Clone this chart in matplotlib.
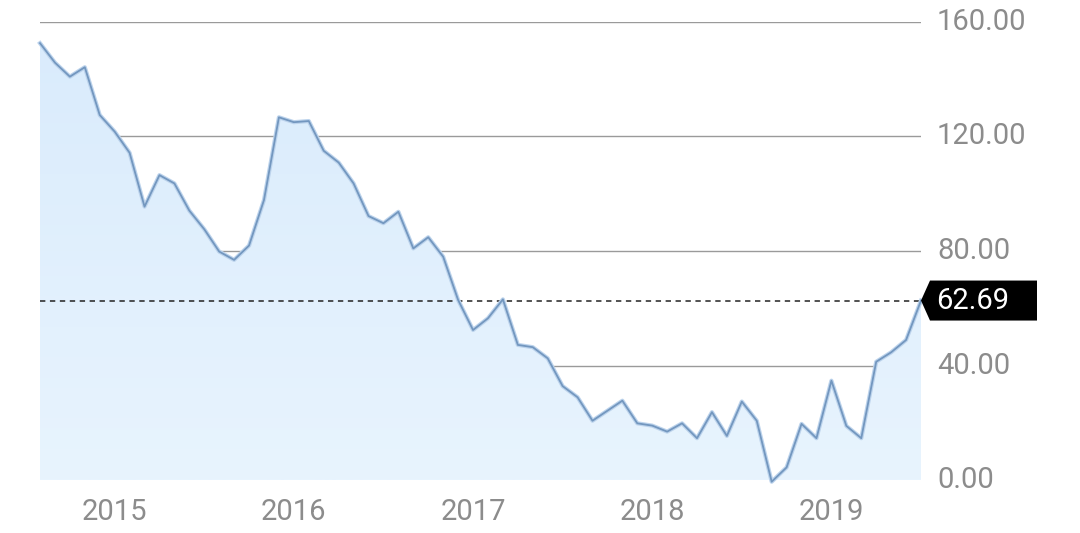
import numpy as np
import matplotlib
matplotlib.use("Agg")
import matplotlib.pyplot as plt
from matplotlib.patches import Polygon
from matplotlib.colors import LinearSegmentedColormap
import matplotlib.patheffects as pe

# ---- data (monthly, Aug 2014 .. Jul 2019) ----
values = [152.6, 145.8, 140.9, 144.2, 127.5, 121.7, 114.3, 95.5, 106.5, 103.6,
          94.1, 87.6, 79.8, 76.9, 81.9, 97.8, 126.7, 125.0, 125.4, 115.0,
          110.9, 103.6, 92.2, 89.7, 93.7, 80.9, 84.8, 78.0, 62.9, 52.4,
          56.5, 63.1, 47.2, 46.4, 42.5, 32.8, 28.9, 20.7, 24.2, 27.7,
          19.8, 19.0, 16.9, 19.8, 14.6, 23.7, 15.4, 27.4, 20.7, -0.6,
          4.4, 19.6, 14.6, 34.7, 18.9, 14.6, 41.3, 44.6, 48.9, 62.69]
year_tick_index = [5, 17, 29, 41, 53]
year_labels = ["2015", "2016", "2017", "2018", "2019"]
y_ticks = [0, 40, 80, 120, 160]
y_labels = ["0.00", "40.00", "80.00", "120.00", "160.00"]
last_value = 62.69

plt.rcParams['font.family'] = ['Roboto', 'DejaVu Sans']

W, H = 1080, 533
fig = plt.figure(figsize=(W / 100, H / 100), dpi=100)
ax = fig.add_axes([40 / W, 53 / H, (921 - 40) / W, 458 / H])

x = np.arange(len(values))
y = np.array(values)

ax.set_xlim(0, len(values) - 1)
ax.set_ylim(0, 160)

# gridlines
for t in y_ticks:
    ax.axhline(t, color="#9a9a9a", lw=1.0, zorder=1)

# gradient fill under the line
grad = np.linspace(0, 1, 256).reshape(-1, 1)
cmap = LinearSegmentedColormap.from_list("g", ["#e8f4fe", "#d9ebfc"])
img = ax.imshow(grad, cmap=cmap, aspect="auto", origin="lower",
                extent=[0, len(values) - 1, 0, 160], zorder=2)
poly = Polygon(np.column_stack([np.r_[x, x[-1], x[0]], np.r_[y, 0, 0]]),
               closed=True, facecolor="none", edgecolor="none")
ax.add_patch(poly)
img.set_clip_path(poly)

# line
ax.plot(x, y, color="#7397bf", lw=1.3, zorder=4, clip_on=False,
        path_effects=[pe.Stroke(linewidth=3.0, foreground="#bcd3ec"), pe.Normal()])

# dashed last-value line
ax.axhline(last_value, color="#222222", lw=1.1, ls=(0, (3.5, 3)), zorder=3)

for s in ax.spines.values():
    s.set_visible(False)
ax.set_yticks([])
ax.set_xticks(year_tick_index)
ax.set_xticklabels(year_labels, fontsize=21, color="#8c8c8c")
ax.tick_params(axis="x", length=0, pad=13)

# right-side labels
for t, lab in zip(y_ticks, y_labels):
    ax.annotate(lab, xy=(1, t), xycoords=("axes fraction", "data"),
                xytext=(16, 0), textcoords="offset pixels",
                ha="left", va="center", fontsize=21, color="#8c8c8c")

# value tag
ypix = ax.transData.transform((0, last_value))[1]
tip_x = 921
tag = Polygon([(tip_x, ypix), (tip_x + 9, ypix + 20), (1037, ypix + 20),
               (1037, ypix - 20), (tip_x + 9, ypix - 20)],
              closed=True, facecolor="black", edgecolor="none",
              transform=None, zorder=10)
fig.patches.append(tag)
fig.text(936 / W, ypix / H, f"{last_value:.2f}", ha="left", va="center",
         fontsize=21, color="white", zorder=11)

fig.savefig("out.png", dpi=100)
